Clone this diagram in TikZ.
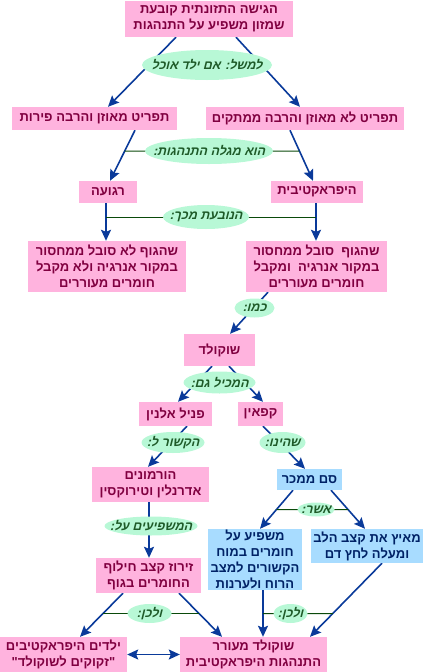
\documentclass[tikz,border=0pt]{standalone}
\usepackage{fontspec}
\usetikzlibrary{arrows.meta,shapes.geometric,calc,backgrounds}
\TeXXeTstate=1
\newfontfamily\hebfont[Script=Hebrew]{Liberation Sans}
\newfontfamily\hebslfont[Script=Hebrew,FakeSlant=0.25]{Liberation Sans}
\newcommand{\hebln}[1]{\beginR #1\endR}
\definecolor{pinkfill}{HTML}{FFB3DE}
\definecolor{pinktext}{HTML}{800040}
\definecolor{bluefill}{HTML}{A8DCFF}
\definecolor{bluetext}{HTML}{002266}
\definecolor{mintfill}{HTML}{B8F8D6}
\definecolor{minttext}{HTML}{1E5A28}
\definecolor{arrowblue}{HTML}{0A3A9A}
\definecolor{linegreen}{HTML}{0A4A0A}
% label: name, centre, width, height, text
\newcommand{\lbl}[5]{%
  \fill[labfill] (#2) ellipse ({#3/2} and {#4/2});
  \node[labtext] (#1) at (#2) {#5};}
\begin{document}
\begin{tikzpicture}[x=1pt,y=-1pt,
 pbox/.style={rectangle,fill=pinkfill,text=pinktext,font=\hebfont\bfseries\fontsize{13}{16}\selectfont,align=center,inner sep=0pt},
 bbox/.style={pbox,fill=bluefill,text=bluetext},
 labfill/.style={fill=mintfill},
 labtext/.style={rectangle,inner sep=0pt,text=minttext,font=\hebslfont\bfseries\fontsize{12.5}{14}\selectfont},
 arr/.style={draw=arrowblue,line width=1.6pt,-{Stealth[length=11pt,width=10pt,inset=2pt]}},
 dblarr/.style={arr,{Stealth[length=11pt,width=10pt,inset=2pt]}-{Stealth[length=11pt,width=10pt,inset=2pt]}},
 tie/.style={draw=linegreen,line width=1pt}]
\useasboundingbox (0,0) rectangle (424,672);
% boxes
\node[pbox,minimum width=168pt,minimum height=36pt] (top) at (209,19) {\hebln{הגישה התזונתית קובעת}\\\hebln{שמזון משפיע על התנהגות}};
\node[pbox,minimum width=165pt,minimum height=23pt] (L1) at (94.5,118.5) {\hebln{תפריט מאוזן והרבה פירות}};
\node[pbox,minimum width=198pt,minimum height=23pt] (R1) at (305,118.5) {\hebln{תפריט לא מאוזן והרבה ממתקים}};
\node[pbox,minimum width=58pt,minimum height=22pt] (calm) at (108,192) {\hebln{רגועה}};
\node[pbox,minimum width=92pt,minimum height=22pt] (hyper) at (317,192) {\hebln{היפראקטיבית}};
\node[pbox,minimum width=158pt,minimum height=51pt] (L2) at (107,266.5) {\hebln{שהגוף לא סובל ממחסור}\\\hebln{במקור אנרגיה ולא מקבל}\\\hebln{חומרים מעוררים}};
\node[pbox,minimum width=141pt,minimum height=51pt] (R2) at (316.5,266.5) {\hebln{שהגוף\ \ סובל ממחסור}\\\hebln{במקור אנרגיה\ \ ומקבל}\\\hebln{חומרים מעוררים}};
\node[pbox,minimum width=71pt,minimum height=32pt] (choc) at (219.5,350) {\hebln{שוקולד}};
\node[pbox,minimum width=73pt,minimum height=24pt] (phe) at (175.5,414) {\hebln{פניל אלנין}};
\node[pbox,minimum width=45pt,minimum height=24pt] (caf) at (260.5,414) {\hebln{קפאין}};
\node[pbox,minimum width=117pt,minimum height=35pt] (horm) at (150.5,484.5) {\hebln{הורמונים}\\\hebln{אדרנלין וטירוקסין}};
\node[bbox,minimum width=65pt,minimum height=21pt] (drug) at (309.5,479.5) {\hebln{סם ממכר}};
\node[pbox,minimum width=105pt,minimum height=35pt] (speed) at (148.5,575.5) {\hebln{זירוז קצב חילוף}\\\hebln{החומרים בגוף}};
\node[bbox,minimum width=94pt,minimum height=61pt] (brain) at (255,559.5) {\hebln{משפיע על}\\\hebln{חומרים במוח}\\\hebln{הקשורים למצב}\\\hebln{הרוח ולערנות}};
\node[bbox,minimum width=112pt,minimum height=34pt] (heart) at (367,546) {\hebln{מאיץ את קצב הלב}\\\hebln{ומעלה לחץ דם}};
\node[pbox,minimum width=127pt,minimum height=35pt] (kids) at (63.5,654.5) {\hebln{ילדים היפראקטיבים}\\\hebln{"זקוקים לשוקולד"}};
\node[pbox,minimum width=147pt,minimum height=35pt] (chocb) at (253.5,654.5) {\hebln{שוקולד מעורר}\\\hebln{התנהגות היפראקטיבית}};
% labels
\lbl{e1}{207,65}{130}{30}{\hebln{למשל: אם ילד אוכל}}
\lbl{e2}{209,151}{128}{26}{\hebln{הוא מגלה התנהגות:}}
\lbl{e3}{206,217}{86}{24}{\hebln{הנובעת מכך:}}
\lbl{e4}{254.5,308}{40}{19}{\hebln{כמו:}}
\lbl{e5}{219.5,382.5}{72}{22}{\hebln{המכיל גם:}}
\lbl{e6}{173,442.5}{63}{21}{\hebln{הקשור ל:}}
\lbl{e7}{282.5,442.5}{46}{21}{\hebln{שהינו:}}
\lbl{e8}{151,526}{93}{19}{\hebln{המשפיעים על:}}
\lbl{e9}{316,509.5}{37}{14}{\hebln{אשר:}}
\lbl{e10}{149.5,613.5}{44}{19}{\hebln{ולכן:}}
\lbl{e11}{290.5,613.5}{34}{19}{\hebln{ולכן:}}
% arrow end points
\coordinate (a1s) at ([xshift=-33pt]top.south);
\coordinate (a1e) at ([xshift=13.5pt]L1.north);
\coordinate (a2s) at ([xshift=27pt]top.south);
\coordinate (a2e) at ([xshift=-5pt]R1.north);
\coordinate (a3s) at ([xshift=40.5pt]L1.south);
\coordinate (a3e) at ([xshift=2pt]calm.north);
\coordinate (a4s) at ([xshift=-15pt]R1.south);
\coordinate (a4e) at ([xshift=-4pt]hyper.north);
\coordinate (a5s) at ([xshift=-2pt]calm.south);
\coordinate (a6s) at ([xshift=-1pt]hyper.south);
\coordinate (a7s) at ([xshift=-48.5pt]R2.south);
\coordinate (a7e) at ([xshift=10.5pt]choc.north);
\coordinate (a8s) at ([xshift=-7.5pt]choc.south);
\coordinate (a8e) at ([xshift=2.5pt]phe.north);
\coordinate (a9s) at ([xshift=9.5pt]choc.south);
\coordinate (a9e) at ([xshift=2.5pt]caf.north);
\coordinate (a10s) at ([xshift=11.5pt]phe.south);
\coordinate (a10e) at ([xshift=-2.5pt]horm.north);
\coordinate (a11s) at ([xshift=2.5pt]caf.south);
\coordinate (a11e) at ([xshift=-4.5pt]drug.north);
\coordinate (a12s) at ([xshift=-1.5pt]horm.south);
\coordinate (a13s) at ([xshift=-16.5pt]drug.south);
\coordinate (a13e) at ([xshift=5pt]brain.north);
\coordinate (a14s) at ([xshift=21.5pt]drug.south);
\coordinate (a14e) at ([xshift=-2pt]heart.north);
\coordinate (a15s) at ([xshift=-25.5pt]speed.south);
\coordinate (a15e) at ([xshift=16.5pt]kids.north);
\coordinate (a16s) at ([xshift=30.5pt]speed.south);
\coordinate (a16e) at ([xshift=-31.5pt]chocb.north);
\coordinate (a17s) at ([xshift=8pt]brain.south);
\coordinate (a18s) at ([xshift=15pt]heart.south);
\coordinate (a18e) at ([xshift=56.5pt]chocb.north);
\begin{scope}[on background layer]
\draw[arr] (a1s) -- (a1e);
\draw[arr] (a2s) -- (a2e);
\draw[arr] (a3s) -- (a3e);
\draw[arr] (a4s) -- (a4e);
\draw[arr] (a5s) -- (a5s |- L2.north);
\draw[arr] (a6s) -- (a6s |- R2.north);
\draw[arr] (a7s) -- (a7e);
\draw[arr] (a8s) -- (a8e);
\draw[arr] (a9s) -- (a9e);
\draw[arr] (a10s) -- (a10e);
\draw[arr] (a11s) -- (a11e);
\draw[arr] (a12s) -- (a12s |- speed.north);
\draw[arr] (a13s) -- (a13e);
\draw[arr] (a14s) -- (a14e);
\draw[arr] (a15s) -- (a15e);
\draw[arr] (a16s) -- (a16e);
\draw[arr] (a17s) -- (a17s |- chocb.north);
\draw[arr] (a18s) -- (a18e);
\draw[dblarr] (kids.east) -- (chocb.west);
% ties
\draw[tie] (intersection of e2.west--e2.east and a3s--a3e) -- (intersection of e2.west--e2.east and a4s--a4e);
\draw[tie] (e3.center -| a5s) -- (e3.center -| a6s);
\draw[tie] (intersection of e9.west--e9.east and a13s--a13e) -- (intersection of e9.west--e9.east and a14s--a14e);
\draw[tie] (intersection of e10.west--e10.east and a15s--a15e) -- (intersection of e10.west--e10.east and a16s--a16e);
\draw[tie] (e11.center -| a17s) -- (intersection of e11.west--e11.east and a18s--a18e);
\end{scope}
\end{tikzpicture}
\end{document}
